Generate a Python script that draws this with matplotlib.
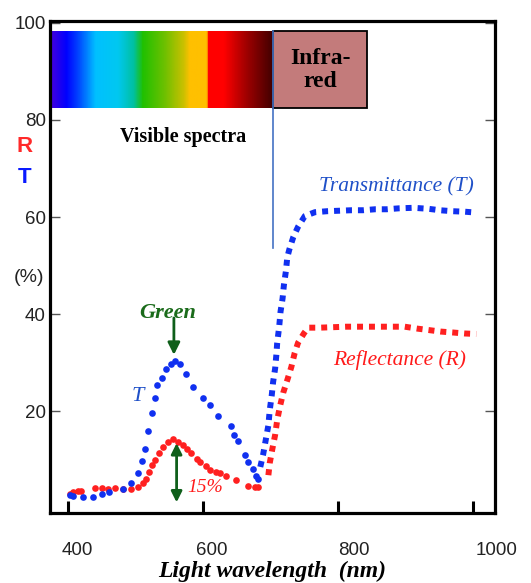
import numpy as np
import matplotlib
matplotlib.use("Agg")
import matplotlib.pyplot as plt
from matplotlib.colors import LinearSegmentedColormap
from matplotlib.patches import Rectangle
from matplotlib.transforms import ScaledTranslation

# transmittance / reflectance in the visible range (round dots)
t_vis_x = [403, 407, 423, 437, 450, 461, 482, 494, 504, 509, 514, 518, 524, 529, 532, 539,
           545, 552, 559, 566, 575, 586, 600, 611, 623, 641, 646, 652, 662, 667, 674, 679, 682]
t_vis_y = [2.7, 2.5, 2.3, 2.3, 2.9, 3.4, 3.9, 5.1, 7.3, 9.8, 12.2, 15.9, 19.7, 22.8, 25.4, 26.9,
           28.6, 29.8, 30.4, 29.7, 27.6, 24.9, 22.8, 21.2, 19.0, 16.9, 15.1, 13.8, 10.9, 9.6, 8.0, 6.6, 6.1]
r_vis_x = [403, 408, 415, 420, 440, 450, 460, 470, 482, 494, 504, 511, 516, 520, 524, 529, 535, 541,
           549, 556, 563, 570, 576, 583, 591, 596, 604, 610, 619, 625, 634, 649, 667, 677, 682]
r_vis_y = [3.0, 3.3, 3.5, 3.5, 4.1, 4.1, 3.9, 4.1, 3.9, 3.9, 4.4, 5.1, 6.1, 7.5, 8.9, 9.9, 11.3, 12.6,
           13.7, 14.2, 13.7, 13.0, 12.3, 11.4, 10.2, 9.5, 8.7, 7.8, 7.5, 7.2, 6.6, 5.8, 4.5, 4.4, 4.4]

# infrared part (square dots)
t_ir_x = [685, 689, 693, 697, 699, 702, 704, 707, 709, 710, 713, 715, 718, 720, 723, 725, 728, 734,
          741, 751, 766, 784, 802, 820, 837, 855, 872, 891, 912, 934, 951, 970, 988, 1006]
t_ir_y = [8.5, 10.9, 14.0, 17.1, 20.2, 23.3, 26.0, 28.8, 31.9, 34.0, 37.4, 40.5, 43.2, 46.0, 48.9, 51.7,
          53.3, 55.9, 58.0, 60.2, 61.0, 61.2, 61.3, 61.4, 61.4, 61.6, 61.6, 61.8, 61.9, 61.7, 61.4,
          61.2, 61.1, 60.9]
r_ir_x = [697, 699, 703, 707, 710, 714, 719, 725, 731, 736, 741, 750, 756, 773, 813, 830, 865, 899,
          918, 935, 952, 971, 988, 1005]
r_ir_y = [6.8, 9.3, 12.3, 15.1, 18.1, 20.9, 23.8, 26.4, 29.1, 32.0, 34.1, 36.1, 37.2, 37.2, 37.4, 37.4,
          37.4, 37.4, 37.0, 36.7, 36.4, 36.2, 36.0, 35.9]

x_ticks = [400, 600, 800, 1000]
y_ticks = [20, 40, 60, 80, 100]

spec_stops = [(0.0, "#5000d8"), (0.08, "#0000ff"), (0.13, "#0040ff"), (0.21, "#00c0ff"),
              (0.31, "#00c8f0"), (0.38, "#00c0a0"), (0.42, "#20c000"), (0.52, "#70c000"),
              (0.60, "#c8c000"), (0.63, "#ffc000"), (0.705, "#ffc000"), (0.71, "#ff0000"),
              (0.78, "#ff0000"), (0.88, "#a00000"), (1.0, "#400000")]

serif = "Liberation Serif"
sans = "Liberation Sans"
blue = "#1030f0"
red = "#ff2020"
green = "#0f5f1a"

fig = plt.figure(figsize=(5.31, 5.83), dpi=100)
ax = fig.add_axes([0.094, 0.120, 0.838, 0.844])

# spectrum bar
cmap = LinearSegmentedColormap.from_list("spec", spec_stops)
grad = np.linspace(0, 1, 400).reshape(1, -1)
ax.imshow(grad, extent=[370, 704, 82.5, 98.3], aspect="auto", cmap=cmap, zorder=1)
ax.add_patch(Rectangle((704, 82.5), 139, 15.8, facecolor="#c37b7b", edgecolor="black", lw=1.3, zorder=2))
ax.text(773.5, 90.3, "Infra-\nred", ha="center", va="center", fontsize=17, fontweight="bold",
        family=serif, linespacing=1.15, zorder=3)
ax.plot([704, 704], [53.6, 98.3], color="#4472c4", lw=1.2, zorder=2)
ax.text(570, 76.5, "Visible spectra", ha="center", va="center", fontsize=14.5, fontweight="bold", family=serif)

# data
ax.plot(t_vis_x, t_vis_y, "o", color=blue, ms=4.8, mec="none", zorder=4)
ax.plot(r_vis_x, r_vis_y, "o", color=red, ms=4.8, mec="none", zorder=3)
ax.plot(t_ir_x, t_ir_y, color=blue, lw=4.3, linestyle=(0, (1, 1)), zorder=4)
ax.plot(r_ir_x, r_ir_y, color=red, lw=4.3, linestyle=(0, (1, 1)), zorder=3)

# annotations
ax.text(886, 66.2, "Transmittance (T)", ha="center", va="center", fontsize=15.5, style="italic",
        family=serif, color="#1f50c8")
ax.text(892, 30.5, "Reflectance (R)", ha="center", va="center", fontsize=15.5, style="italic",
        family=serif, color="#ff1a1a")
ax.text(548, 40.2, "Green", ha="center", va="center", fontsize=16, style="italic", fontweight="bold",
        family=serif, color="#1a6b1a")
ax.annotate("", xy=(557, 31.6), xytext=(557, 39.2),
            arrowprops=dict(arrowstyle="-|>", color=green, lw=2, mutation_scale=18, shrinkA=0, shrinkB=0))
ax.annotate("", xy=(561, 1.2), xytext=(561, 13.4),
            arrowprops=dict(arrowstyle="<|-|>", color=green, lw=2, mutation_scale=16, shrinkA=0, shrinkB=0))
ax.text(504, 23.1, "T", ha="center", va="center", fontsize=16, style="italic", family=serif, color="#1f50c8")
ax.text(603, 4.3, "15%", ha="center", va="center", fontsize=14, style="italic", family=serif, color="#ff1a1a")

# axis side labels
ax.text(336, 74.6, "R", ha="center", va="center", fontsize=16, fontweight="bold", family=sans, color="#ff2a2a")
ax.text(336, 68.2, "T", ha="center", va="center", fontsize=16, fontweight="bold", family=sans, color="#0a1aff")
ax.text(343, 47.6, "(%)", ha="center", va="center", fontsize=14, family=sans, color="#222222")

ax.set_xlim(373.3, 1032.6)
ax.set_ylim(-1.0, 100.4)
ax.set_xticks(x_ticks)
ax.set_xticklabels([str(v) for v in x_ticks], fontsize=13.5, family=sans, color="#222222")
ax.set_yticks(y_ticks)
ax.set_yticklabels([str(v) for v in y_ticks], fontsize=13.5, family=sans, color="#222222")
ax.tick_params(axis="x", direction="in", length=8.6, width=2.2, color="black", pad=21)
ax.tick_params(axis="y", direction="in", length=7.2, width=1, color="#555555", pad=3, right=True)

for lab, dx in zip(ax.get_xticklabels(), [9, 9, 16, 24]):
    lab.set_transform(lab.get_transform() + ScaledTranslation(dx / 100, 0, fig.dpi_scale_trans))

for s in ax.spines.values():
    s.set_linewidth(2.3)

ax.set_xlabel("Light wavelength  (nm)", fontsize=17, fontweight="bold", style="italic", family=serif, labelpad=1)

fig.savefig("out.png", dpi=100)
